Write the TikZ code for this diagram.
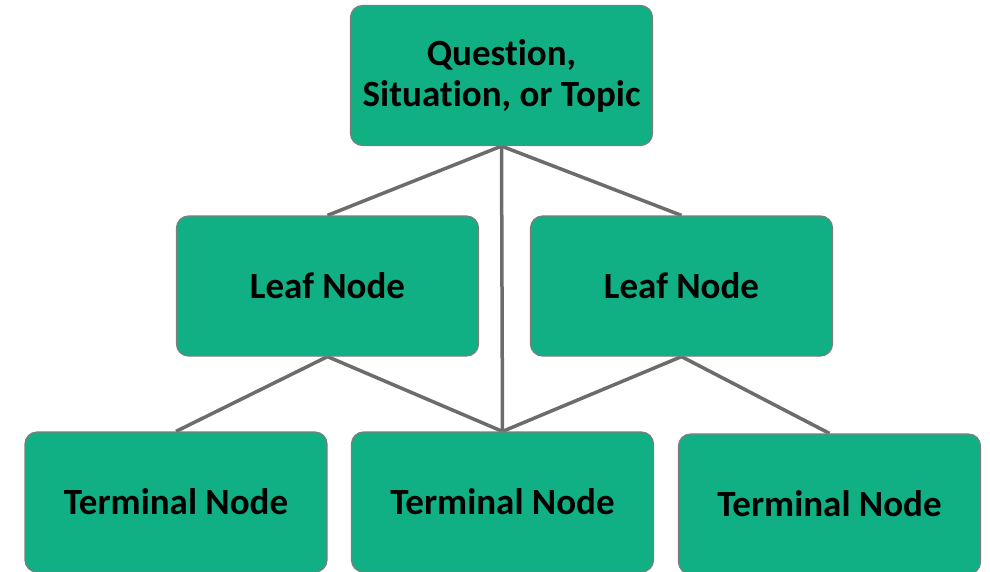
\documentclass[tikz,border=0pt]{standalone}
\usepackage{fontspec}
\setmainfont[Ligatures=NoCommon]{Carlito}
\usetikzlibrary{backgrounds}
\definecolor{boxgreen}{RGB}{16,176,132}
\definecolor{edgegray}{RGB}{108,108,108}
\definecolor{bordergray}{RGB}{125,125,125}
\begin{document}
\begin{tikzpicture}[x=1pt,y=-1pt,
  box/.style={draw=bordergray, line width=1.2pt, fill=boxgreen, rounded corners=12pt,
    minimum width=302pt, minimum height=140pt, inner sep=0pt, align=center,
    font=\fontsize{37}{41}\selectfont\bfseries},
  link/.style={draw=edgegray, line width=3.5pt}]
\useasboundingbox (0,0) rectangle (990,571);
\clip (0,0) rectangle (990,571);
\node[box] (top) at (501.5,75.5) {Question,\\Situation, or Topic};
\node[box] (l1) at (327.5,286) {Leaf Node};
\node[box] (l2) at (681.5,286) {Leaf Node};
\node[box] (t1) at (176,502) {Terminal Node};
\node[box] (t2) at (502.5,502) {Terminal Node};
\node[box] (t3) at (829.5,504) {Terminal Node};
\begin{pgfonlayer}{background}
\draw[link] (top.south) -- (l1.north);
\draw[link] (top.south) -- (l2.north);
\draw[link] (top.south) -- (t2.north);
\draw[link] (l1.south) -- (t1.north);
\draw[link] (l1.south) -- (t2.north);
\draw[link] (l2.south) -- (t2.north);
\draw[link] (l2.south) -- (t3.north);
\end{pgfonlayer}
\end{tikzpicture}
\end{document}
